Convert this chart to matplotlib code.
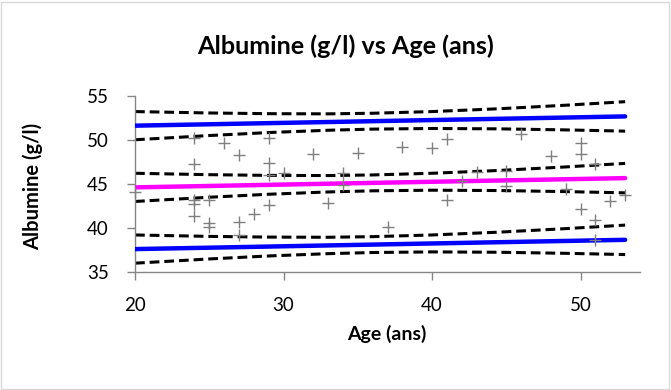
import matplotlib
matplotlib.use("Agg")
import matplotlib.pyplot as plt
from matplotlib.patches import Rectangle

# ---- data ----
ages = [20, 24, 24, 24, 24, 24, 25, 25, 25, 26, 27, 27, 27, 28, 29, 29, 29, 29,
        30, 32, 33, 34, 34, 35, 37, 38, 40, 41, 41, 42, 43, 45, 45, 46, 48, 49,
        50, 50, 50, 51, 51, 51, 52, 53]
albumine = [44.1, 50.25, 47.3, 43.2, 42.7, 41.3, 43.2, 40.55, 40.05, 49.6, 48.3, 40.7, 39.2,
            41.6, 50.2, 47.4, 46.0, 42.6, 46.2, 48.4, 42.8, 46.2, 44.9, 48.55, 40.1,
            49.2, 49.1, 50.1, 43.2, 45.3, 46.3, 46.5, 44.8, 50.7, 48.2, 44.4,
            49.6, 48.4, 42.1, 47.2, 40.9, 38.65, 43.0, 43.7]

line_x = [20, 53]
mean_line = [44.6, 45.65]
upper_line = [51.6, 52.65]
lower_line = [37.6, 38.65]

band_x = [20, 25, 29, 33, 36, 40, 44.5, 49, 53]
mean_hi = [46.20, 46.04, 45.96, 45.94, 46.01, 46.20, 46.52, 46.92, 47.32]
mean_lo = [43.00, 43.48, 43.82, 44.08, 44.21, 44.28, 44.24, 44.12, 43.98]
upper_hi = [53.20, 53.04, 52.96, 52.94, 53.01, 53.20, 53.52, 53.92, 54.32]
upper_lo = [50.00, 50.48, 50.82, 51.08, 51.21, 51.28, 51.24, 51.12, 50.98]
lower_hi = [39.20, 39.04, 38.96, 38.94, 39.01, 39.20, 39.52, 39.92, 40.32]
lower_lo = [36.00, 36.48, 36.82, 37.08, 37.21, 37.28, 37.24, 37.12, 36.98]

x_ticks = [20, 30, 40, 50]
y_ticks = [35, 40, 45, 50, 55]

title = "Albumine (g/l) vs Age (ans)"
xlabel = "Age (ans)"
ylabel = "Albumine (g/l)"

# ---- plot ----
plt.rcParams['font.family'] = ['Lato', 'DejaVu Sans']
W, H = 671, 390
fig = plt.figure(figsize=(W / 100, H / 100), dpi=100)
ax = fig.add_axes([135 / W, 1 - 272 / H, (640 - 135) / W, (272 - 95.7) / H])

dash_kw = dict(color='black', lw=2.2, dashes=(3.2, 1.6), dash_capstyle='butt')
for band in (upper_hi, upper_lo, mean_hi, mean_lo, lower_hi, lower_lo):
    ax.plot(band_x, band, **dash_kw, zorder=2)

ax.plot(line_x, upper_line, color='#0000FF', lw=3.2, solid_capstyle='round', zorder=3)
ax.plot(line_x, lower_line, color='#0000FF', lw=3.2, solid_capstyle='round', zorder=3)
ax.plot(line_x, mean_line, color='#FF00FF', lw=3.2, solid_capstyle='round', zorder=3)

ax.scatter(ages, albumine, marker='+', s=80, color='#7F7F7F', linewidths=1.0,
           zorder=4, clip_on=False)

ax.set_xlim(20, 54)
ax.set_ylim(35, 55)
ax.set_xticks(x_ticks)
ax.set_yticks(y_ticks)
for s in ('top', 'right'):
    ax.spines[s].set_visible(False)
for s in ('left', 'bottom'):
    ax.spines[s].set_color('#868686')
    ax.spines[s].set_linewidth(1.0)
ax.tick_params(direction='out', length=6, width=1.0, color='#868686',
               labelsize=13.5, labelcolor='black')
ax.tick_params(axis='x', pad=12)
ax.tick_params(axis='y', pad=13)

t = fig.text(346 / W, 1 - 46 / H, title, ha='center', va='center',
             fontsize=14, fontweight='bold')
# scale title font so its width matches the reference (~298 px)
renderer = fig.canvas.get_renderer()
w = t.get_window_extent(renderer).width
t.set_fontsize(14 * 298 / w)

fig.text(387 / W, 1 - 334 / H, xlabel, ha='center', va='center',
         fontsize=14, fontweight='bold')
fig.text(33 / W, 1 - 186 / H, ylabel, ha='center', va='center',
         fontsize=14.5, fontweight='bold', rotation=90)

fig.add_artist(Rectangle((1 / W, 1 / H), (W - 3) / W, (H - 3) / H,
                         transform=fig.transFigure, fill=False,
                         edgecolor='#D9D9D9', lw=1.0))

fig.savefig('out.png', dpi=100)
